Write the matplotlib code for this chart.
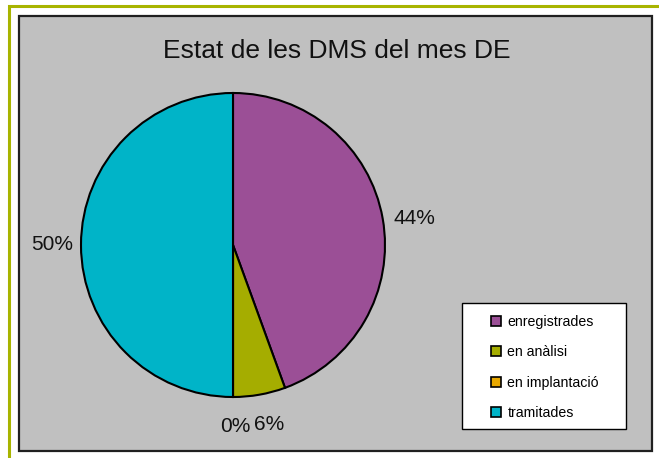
import matplotlib
matplotlib.use("Agg")
import matplotlib.pyplot as plt
import matplotlib.transforms as mtransforms
from matplotlib.patches import Rectangle, Patch

plt.rcParams['font.family'] = ['Liberation Sans', 'DejaVu Sans']

title = "Estat de les DMS del mes DE"
categories = ["enregistrades", "en anàlisi", "en implantació", "tramitades"]
values = [8, 1, 0, 9]
colors = ["#9B4F96", "#A5AD00", "#E8A800", "#00B4C8"]

W, H = 659, 458
fig = plt.figure(figsize=(W / 100, H / 100), dpi=100)
fig.patch.set_facecolor("white")

def px_rect(x0, y0, x1, y1, **kw):
    r = Rectangle((x0 / W, 1 - y1 / H), (x1 - x0) / W, (y1 - y0) / H,
                  transform=fig.transFigure, **kw)
    fig.patches.append(r)
    return r

# outer olive frame
px_rect(9, 6, 700, 500, facecolor="none", edgecolor="#A8B400", linewidth=2.2, zorder=-3)
# gray plot area
px_rect(19, 16, 652, 451, facecolor="#C0C0C0", edgecolor="#202020", linewidth=1.6, zorder=-2)
# legend box
px_rect(462, 303, 626, 429, facecolor="white", edgecolor="black", linewidth=1.0, zorder=-1)

fig.text(337 / W, 1 - 51 / H, title, ha="center", va="center", fontsize=19, color="#111111")

cx, cy, r = 233, 245, 152
ax = fig.add_axes([(cx - r) / W, 1 - (cy + r) / H, 2 * r / W, 2 * r / H])
ax.set_zorder(1)
ax.set_facecolor("none")
ax.axis("off")
wedges, texts, autotexts = ax.pie(
    values, colors=colors, startangle=90, counterclock=False,
    autopct=lambda p: f"{p:.0f}%", pctdistance=1.19,
    wedgeprops=dict(edgecolor="black", linewidth=1.5),
    textprops=dict(fontsize=15, color="#111111"))
ax.set_xlim(-1, 1)
ax.set_ylim(-1, 1)
ax.set_aspect("equal")

# small pixel nudges of the percentage labels (label placement style)
nudges = [(3, -5), (5, -1), (2, -1), (0, 0)]
for t, (dx, dy) in zip(autotexts, nudges):
    t.set_transform(mtransforms.offset_copy(ax.transData, fig=fig, x=dx, y=dy, units="dots"))

handles = [Patch(facecolor=c, edgecolor="black", linewidth=1.2) for c in colors]
leg = fig.legend(handles, categories, loc="upper left",
                 bbox_to_anchor=(484 / W, 1 - 308 / H), frameon=False,
                 fontsize=10.2, handlelength=0.7, handleheight=0.7,
                 handletextpad=0.45, labelspacing=1.15, borderpad=0)
leg.set_zorder(3)

fig.savefig("out.png", dpi=100)
